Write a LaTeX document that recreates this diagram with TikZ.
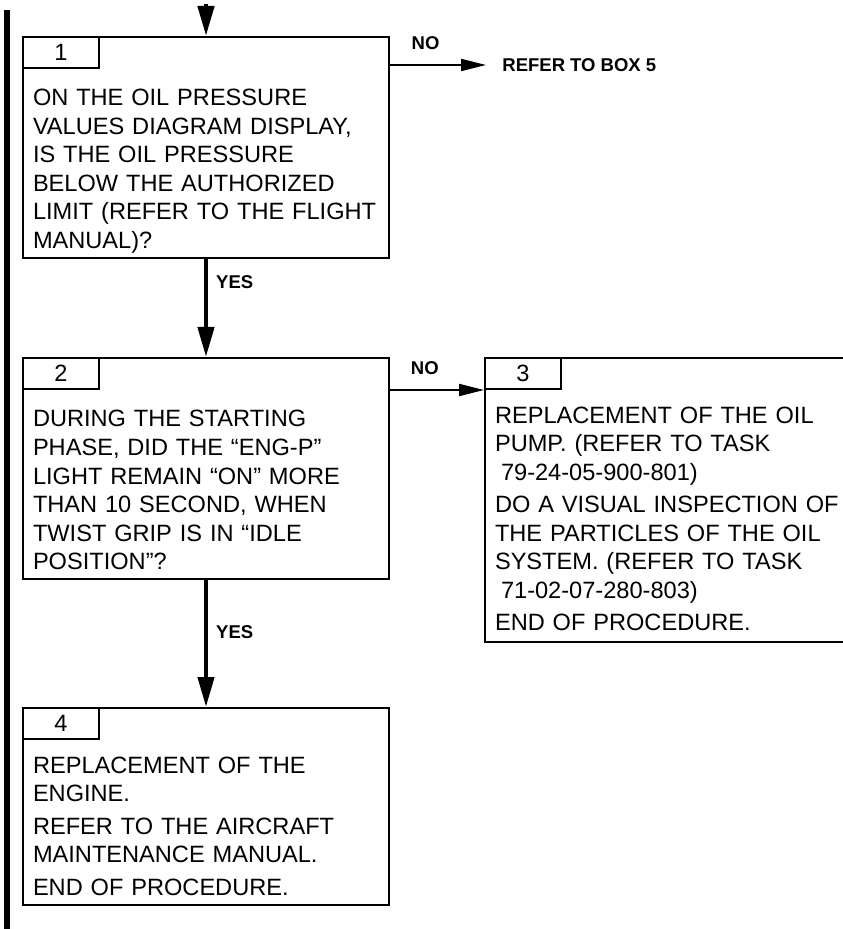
\documentclass[tikz,border=0pt]{standalone}
\usepackage{fontspec}
\setmainfont{Liberation Sans}
\usetikzlibrary{positioning, arrows.meta}

\tikzstyle{question} = [rectangle,
draw=black,
line width=1pt,
text width=173pt,
inner xsep=5pt,
inner ysep=0pt,
align=left,
text height=34.5pt,
text depth=76pt,
font=\fontsize{11.8}{14.25}\selectfont]
\tikzstyle{action} = [question,
text height=32.5pt]
\tikzstyle{tabbox} = [rectangle,
draw=black,
line width=1pt,
minimum width=38pt,
minimum height=15.5pt,
inner sep=0pt,
anchor=north west,
font=\fontsize{11.8}{14.25}\selectfont]
\tikzstyle{answer} = [inner sep=2pt,
font=\fontsize{9.25}{11}\selectfont\bfseries]
\tikzstyle{arrow} = [line width=2.2pt,-{Triangle[length=15pt,width=8pt]}]
\tikzstyle{noarrow} = [line width=1pt,-{Triangle[length=12.5pt,width=6pt]}]
\tikzstyle{sidebar} = [line width=3pt]

\begin{document}
\begin{tikzpicture}

\useasboundingbox (0,0) rectangle (421pt,-464.5pt);

\node (box1) [question, anchor=north] at (103pt,-18pt)
      {ON THE OIL PRESSURE\\
       VALUES DIAGRAM DISPLAY,\\
       IS THE OIL PRESSURE\\
       BELOW THE AUTHORIZED\\
       LIMIT (REFER TO THE FLIGHT\\
       MANUAL)?};
\node (tab1) [tabbox] at (box1.north west) {1};

\node (box2) [question, below=49pt of box1]
      {DURING THE STARTING\\
       PHASE, DID THE “ENG-P”\\
       LIGHT REMAIN “ON” MORE\\
       THAN 10 SECOND, WHEN\\
       TWIST GRIP IS IN “IDLE\\
       POSITION”?};
\node (tab2) [tabbox] at (box2.north west) {2};

\node (box3) [action, text width=180pt, text depth=109.5pt,
              right=47pt of box2.north east, anchor=north west]
      {REPLACEMENT OF THE OIL\\
       PUMP. (REFER TO TASK\\
       \hspace*{3pt}79-24-05-900-801)\\[2pt]
       DO A VISUAL INSPECTION OF\\
       THE PARTICLES OF THE OIL\\
       SYSTEM. (REFER TO TASK\\
       \hspace*{3pt}71-02-07-280-803)\\[2pt]
       END OF PROCEDURE.};
\node (tab3) [tabbox] at (box3.north west) {3};

\node (box4) [action, text depth=66pt, below=63.5pt of box2]
      {REPLACEMENT OF THE\\
       ENGINE.\\[2.2pt]
       REFER TO THE AIRCRAFT\\
       MAINTENANCE MANUAL.\\[2.2pt]
       END OF PROCEDURE.};
\node (tab4) [tabbox] at (box4.north west) {4};

\node (refer5) [answer, right=48pt of box1.north east, yshift=-14.5pt,
                inner xsep=8pt] {REFER TO BOX 5};

% entry and side bar
\coordinate (entry) at ([yshift=16pt]box1.north);
\coordinate (bar_top) at (3.5pt,-5pt);
\coordinate (bar_bot) at (3.5pt,-464.5pt);
\draw [sidebar] (bar_top) -- (bar_bot);

\draw [arrow] (entry) -- (box1);
\draw [arrow] (box1) -- node[answer, right=2pt, pos=0.24] {YES} (box2);
\draw [arrow] (box2) -- node[answer, right=2pt, pos=0.41] {YES} (box4);
\draw [noarrow] (box1.east |- refer5.west) -- node[answer, above=5pt, pos=0.37] {NO} (refer5.west);
\draw [noarrow] (box2.east |- tab3.south west) -- node[answer, above=5pt, pos=0.37] {NO} (tab3.south west);

\end{tikzpicture}
\end{document}
